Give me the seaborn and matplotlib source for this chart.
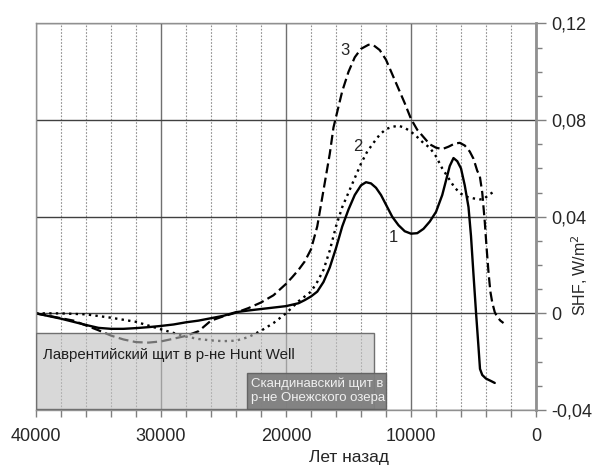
import numpy as np
import pandas as pd
import matplotlib
matplotlib.use('Agg')
import matplotlib.pyplot as plt
from matplotlib.patches import Rectangle
from matplotlib.ticker import MultipleLocator
import seaborn as sns

sns.set_theme(style="white")
plt.rcParams['font.family'] = ['Liberation Sans', 'DejaVu Sans']

# curve 1 (solid)
years_1 = [40000, 38000, 36000, 35000, 34000, 33000, 32000, 31000, 30000, 29000,
           28000, 27000, 26000, 25000, 24000, 23000, 22000, 21000, 20000, 19000,
           18500, 18000, 17500, 17000, 16500, 16000, 15500, 15000, 14500, 14000,
           13600, 13200, 12800, 12400, 12000, 11500, 11000, 10500, 10000, 9500,
           9000, 8500, 8000, 7500, 7200, 6900, 6600, 6300, 6000, 5700,
           5400, 5200, 5000, 4800, 4600, 4480, 4300, 4000, 3600, 3300]
shf_1 = [0.0, -0.0022, -0.0048, -0.006, -0.0064, -0.0064, -0.0061, -0.0057, -0.0052, -0.0046,
         -0.0037, -0.003, -0.002, -0.001, 0.0005, 0.0012, 0.0018, 0.0024, 0.003, 0.0042,
         0.0055, 0.007, 0.009, 0.013, 0.019, 0.027, 0.036, 0.043, 0.049, 0.053,
         0.0543, 0.0538, 0.052, 0.049, 0.045, 0.040, 0.0365, 0.034, 0.033, 0.0332,
         0.035, 0.038, 0.042, 0.049, 0.055, 0.061, 0.0643, 0.063, 0.060, 0.053,
         0.044, 0.032, 0.016, 0.0005, -0.014, -0.023, -0.0255, -0.027, -0.028, -0.0288]

# curve 2 (dotted)
years_2 = [40000, 38000, 36000, 34000, 32000, 30000, 28000, 27000, 26000, 25000,
           24000, 23000, 22000, 21000, 20000, 19500, 19000, 18000, 17500, 17000,
           16500, 16000, 15500, 15000, 14500, 14000, 13500, 13000, 12500, 12000,
           11500, 11000, 10500, 10000, 9500, 9000, 8500, 8000, 7500, 7000,
           6500, 6000, 5500, 5000, 4500, 4200, 3800, 3300]
shf_2 = [0.0, 0.0, -0.0004, -0.0018, -0.0035, -0.0066, -0.0096, -0.0106, -0.0112, -0.0115,
         -0.0113, -0.0098, -0.0072, -0.004, 0.0, 0.0025, 0.005, 0.009, 0.013, 0.018,
         0.026, 0.036, 0.044, 0.050, 0.056, 0.062, 0.067, 0.0706, 0.074, 0.0763,
         0.0772, 0.0777, 0.0768, 0.0752, 0.073, 0.0705, 0.0686, 0.065, 0.060, 0.056,
         0.052, 0.0495, 0.0482, 0.0476, 0.0472, 0.0472, 0.049, 0.0506]

# curve 3 (dashed)
years_3 = [40000, 39000, 38000, 37000, 36000, 35000, 34000, 33000, 32000, 31000,
           30000, 29000, 28000, 27000, 26000, 25000, 24000, 23000, 22000, 21000,
           20000, 19500, 19000, 18500, 18000, 17500, 17000, 16500, 16200, 15500,
           15000, 14500, 14000, 13400, 13000, 12500, 12000, 11500, 11000, 10500,
           10000, 9500, 9000, 8500, 8000, 7500, 7000, 6500, 6100, 5700,
           5300, 5000, 4700, 4500, 4300, 4100, 3950, 3800, 3650, 3500,
           3300, 3100, 2850, 2600]
shf_3 = [0.0, -0.001, -0.002, -0.003, -0.005, -0.007, -0.0092, -0.0108, -0.0119, -0.0121,
         -0.0116, -0.0105, -0.0093, -0.0074, -0.003, -0.0012, 0.0003, 0.0022, 0.0045, 0.0075,
         0.0122, 0.015, 0.018, 0.0215, 0.0265, 0.036, 0.051, 0.066, 0.077, 0.092,
         0.100, 0.106, 0.1095, 0.1112, 0.111, 0.109, 0.105, 0.099, 0.093, 0.087,
         0.0805, 0.076, 0.073, 0.070, 0.0686, 0.068, 0.069, 0.0703, 0.0706, 0.0695,
         0.067, 0.064, 0.059, 0.057, 0.050, 0.038, 0.027, 0.017, 0.009, 0.0045,
         0.0005, -0.0015, -0.003, -0.004]

x_ticks = [40000, 30000, 20000, 10000, 0]
x_tick_labels = ['40000', '30000', '20000', '10000', '0']
y_ticks = [-0.04, 0.0, 0.04, 0.08, 0.12]
y_tick_labels = ['-0,04', '0', '0,04', '0,08', '0,12']

box_1_text = 'Лаврентийский щит в р-не Hunt Well'
box_2_text = 'Скандинавский щит в\nр-не Онежского озера'

fig = plt.figure(figsize=(5.95, 4.67), dpi=100)
ax = fig.add_axes([36 / 595, 1 - 410 / 467, 500 / 595, 386.5 / 467])

sns.lineplot(x=years_1, y=shf_1, ax=ax, color='black', lw=1.7, sort=False)
sns.lineplot(x=years_2, y=shf_2, ax=ax, color='black', lw=1.7, sort=False,
             linestyle=(0, (1.0, 1.8)))
sns.lineplot(x=years_3, y=shf_3, ax=ax, color='black', lw=1.6, sort=False,
             linestyle=(0, (4.5, 2.0)))

ax.set_xlim(40000, 0)
ax.set_ylim(-0.04, 0.12)

ax.set_xticks(x_ticks)
ax.set_xticklabels(x_tick_labels, fontsize=13)
ax.xaxis.set_minor_locator(MultipleLocator(2000))
ax.yaxis.tick_right()
ax.yaxis.set_label_position('right')
ax.set_yticks(y_ticks)
ax.set_yticklabels(y_tick_labels, fontsize=13)
ax.yaxis.set_minor_locator(MultipleLocator(0.01))

ax.tick_params(axis='x', which='both', bottom=True, direction='out',
               length=5, width=1, color='#808080', pad=8)
ax.tick_params(axis='y', which='major', right=True, direction='out',
               length=7, width=1, color='#808080', pad=4)
ax.tick_params(axis='y', which='minor', right=True, direction='out',
               length=4, width=1, color='#808080')

ax.grid(False)
ax.xaxis.grid(True, which='minor', color='#909090', linestyle=(0, (1.5, 1.5)), lw=0.8)
ax.xaxis.grid(True, which='major', color='#707070', linestyle='-', lw=1.0)
ax.yaxis.grid(True, which='major', color='#404040', linestyle='-', lw=1.0)
ax.set_axisbelow(True)

for side in ['left', 'top', 'bottom']:
    ax.spines[side].set_color('#909090')
    ax.spines[side].set_linewidth(1.0)
ax.spines['right'].set_color('#909090')
ax.spines['right'].set_linewidth(2.0)

ax.set_xlabel('Лет назад', fontsize=12.5, labelpad=0)
ax.xaxis.set_label_coords(0.626, -0.103)
ax.set_ylabel('SHF, W/m$^2$', fontsize=11.5, rotation=90, va='center')
ax.yaxis.set_label_coords(1.088, 0.35)

ax.text(15280, 0.109, '3', fontsize=12, ha='center', va='center')
ax.text(14240, 0.069, '2', fontsize=12, ha='center', va='center')
ax.text(11440, 0.0314, '1', fontsize=12, ha='center', va='center')

ax.add_patch(Rectangle((0.0, 0.003), 0.676, 0.196, transform=ax.transAxes,
                       facecolor='#bfbfbf', alpha=0.6, edgecolor='none', zorder=5))
ax.add_patch(Rectangle((0.0, 0.003), 0.676, 0.196, transform=ax.transAxes,
                       facecolor='none', edgecolor='#707070', lw=1.0, zorder=5))
ax.text(0.014, 0.143, box_1_text, transform=ax.transAxes, fontsize=10.8,
        color='#202020', va='center', ha='left', zorder=6)

ax.add_patch(Rectangle((0.421, 0.003), 0.278, 0.093, transform=ax.transAxes,
                       facecolor='#7f7f7f', alpha=0.95, edgecolor='#606060', lw=1.0, zorder=7))
ax.text(0.430, 0.049, box_2_text, transform=ax.transAxes, fontsize=9.5,
        color='#f0f0f0', va='center', ha='left', zorder=8, linespacing=1.25)

fig.savefig('out.png', dpi=100)
